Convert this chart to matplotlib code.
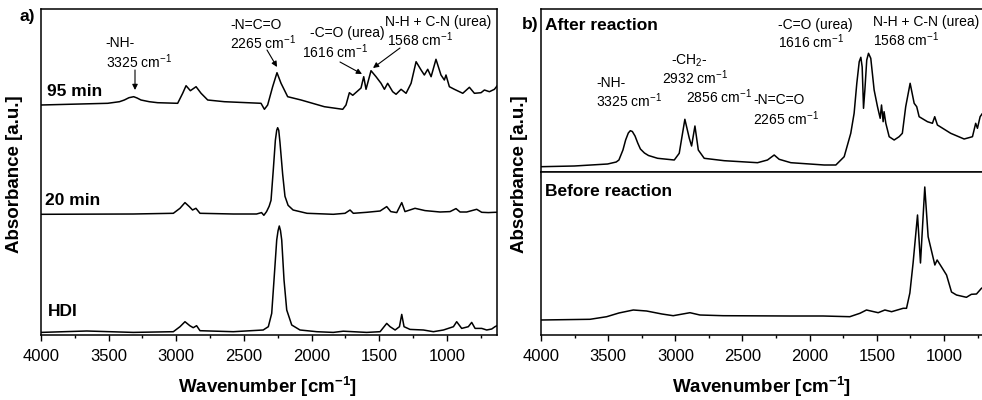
import matplotlib
matplotlib.use('Agg')
import matplotlib.pyplot as plt
from matplotlib.ticker import MultipleLocator

plt.rcParams['font.family'] = ['Liberation Sans', 'DejaVu Sans']
plt.rcParams['mathtext.fontset'] = 'custom'
plt.rcParams['mathtext.rm'] = 'Liberation Sans'
plt.rcParams['mathtext.bf'] = 'Liberation Sans:bold'
plt.rcParams['mathtext.default'] = 'rm'

# ---- panel a) spectra (values relative to each baseline) ----
hdi_wn = [4000, 3662, 3318, 3022, 2973, 2936, 2900, 2875, 2850, 2825, 2579, 2358,
          2320, 2295, 2278, 2258, 2248, 2239, 2230, 2221, 2204, 2184, 2147, 2086,
          1962, 1840, 1766, 1593, 1494, 1445, 1420, 1383, 1351, 1334, 1317, 1273,
          1174, 1100, 1026, 952, 928, 891, 842, 817, 792, 743, 706, 669, 645, 630]
hdi_abs = [-0.7, 0.7, -0.7, 0, 5, 10, 6, 4, 6, 1, 0, 1.7,
           5, 18.3, 51.7, 91.7, 101, 105.7, 101, 91.7, 51.7, 21.7, 6.7, 1.7,
           0, -0.7, 0.5, -0.7, 0, 8.3, 5, 1.7, 5, 17.3, 5, 2.3,
           1.7, 0, 1.7, 5, 10, 3.3, 5, 9.3, 3.3, 3.3, 1.7, 2.7, 5, 6]

m20_wn = [4000, 3318, 3022, 2973, 2936, 2904, 2880, 2855, 2825, 2579, 2407, 2370,
          2353, 2333, 2314, 2300, 2283, 2268, 2258, 2251, 2243, 2234, 2214, 2197,
          2174, 2137, 2034, 1840, 1753, 1716, 1692, 1593, 1494, 1445, 1415, 1371,
          1334, 1310, 1236, 1162, 1051, 977, 933, 903, 854, 780, 743, 694, 645, 630]
m20_abs = [0, 0.3, 1, 6, 11.7, 7.7, 4.3, 6, 1, 0.3, 0.3, 1.7,
           -1, 2.7, 8, 14, 45, 74, 84, 86.6, 84, 72, 40, 18,
           9, 4.3, 1, 0, 1, 4.3, 1, 2, 3.3, 7.7, 2.7, 1.7,
           11.7, 2.7, 6, 3.7, 2.3, 2.7, 5.7, 2.3, 2.3, 5, 2, 1.7, 2, 2]

m95_wn = [4000, 3507, 3420, 3384, 3350, 3315, 3290, 3261, 3200, 3138, 2990, 2953,
          2928, 2896, 2854, 2817, 2768, 2645, 2374, 2349, 2325, 2288, 2256, 2226,
          2177, 2078, 1906, 1770, 1746, 1721, 1696, 1660, 1635, 1615, 1598, 1561,
          1524, 1487, 1462, 1438, 1401, 1376, 1339, 1302, 1265, 1228, 1191, 1167,
          1142, 1117, 1081, 1044, 1019, 1007, 982, 945, 883, 834, 797, 748,
          723, 686, 649, 630]
m95_abs = [0, 1.7, 3.3, 5, 7.3, 8.3, 7, 5, 3.3, 2.3, 1.7, 11.7,
           19.3, 14.3, 18.3, 11.7, 5, 3.3, 1.7, -4.3, 0, 18.3, 32.3, 21.7,
           8.3, 5, -1.7, -4.3, 0, 12.3, 9.7, 14, 17, 28.3, 15.7, 34.3,
           28.3, 21.7, 15.7, 21.7, 13.3, 10.7, 15.7, 11.7, 21.7, 43.3, 35, 30,
           35.7, 28.3, 45.7, 30, 25, 30, 18.3, 15.7, 11.7, 17.7, 11.7, 12.3,
           15, 13.3, 15.7, 19]

# ---- panel b) spectra ----
after_wn = [4000, 3752, 3504, 3440, 3420, 3390, 3370, 3350, 3335, 3320, 3300, 3280,
            3260, 3230, 3200, 3132, 3008, 2971, 2929, 2896, 2879, 2854, 2829, 2785,
            2636, 2388, 2314, 2264, 2227, 2140, 1892, 1805, 1743, 1694, 1669, 1649,
            1631, 1619, 1609, 1599, 1589, 1575, 1562, 1545, 1520, 1495, 1475, 1465,
            1453, 1446, 1433, 1408, 1371, 1334, 1310, 1285, 1252, 1222, 1203, 1185,
            1123, 1086, 1069, 1049, 950, 850, 788, 764, 751, 731, 717]
after_abs = [5.3, 6, 8, 10, 12, 22, 32, 39, 41.3, 40.5, 36, 29,
             23, 19, 16.5, 13.7, 12, 18.7, 52.7, 33.7, 26, 46, 22, 13.7,
             11.3, 9.3, 12, 17, 12.7, 9.3, 7, 7, 15.3, 38.7, 58.7, 88.7,
             110.3, 114.7, 105, 63.7, 82, 112, 118.7, 113.7, 82, 65.3, 53.7, 67,
             50.3, 60.3, 48.7, 35.3, 32, 35.3, 38.7, 65.3, 88.7, 68.7, 65.3, 55.3,
             50.3, 48.7, 55.3, 47, 38.7, 33, 35.3, 48.7, 43.7, 55.3, 58]

before_wn = [4000, 3635, 3511, 3420, 3313, 3214, 3100, 3016, 2891, 2817, 2644, 2147,
             1900, 1701, 1626, 1577, 1490, 1440, 1390, 1304, 1279, 1254, 1230, 1197,
             1175, 1143, 1118, 1068, 1051, 1018, 981, 944, 907, 833, 796, 758,
             721, 717]
before_abs = [15, 15.7, 18.3, 22, 25, 24, 21, 19.3, 22.3, 20, 19.3, 19,
              19, 18.3, 21.7, 25, 22.3, 25, 23.3, 26.7, 26.7, 42, 72, 120,
              72, 148, 98.3, 70, 75, 68, 60, 43, 40, 37.7, 40.7, 41,
              46.7, 47]

labels_a = ['95 min', '20 min', 'HDI']
offsets_a = [230, 120.7, 3.3]

W, H = 982, 400


def fx(x):
    return x / W


def fy(y):
    return 1 - y / H


def style_x(ax, labels=True):
    ax.xaxis.set_major_locator(MultipleLocator(500))
    ax.xaxis.set_minor_locator(MultipleLocator(250))
    ax.tick_params(axis='x', which='major', direction='out', length=4, width=1,
                   labelsize=12, labelbottom=labels, pad=6)
    ax.tick_params(axis='x', which='minor', direction='out', length=2.5, width=1)
    ax.set_yticks([])
    for s in ax.spines.values():
        s.set_linewidth(1.1)


fig = plt.figure(figsize=(9.82, 4.0), dpi=100)

# panel a
ax_a = fig.add_axes([fx(41), fy(335), fx(497) - fx(41), fy(9) - fy(335)])
for wn, ab, off in zip([m95_wn, m20_wn, hdi_wn], [m95_abs, m20_abs, hdi_abs], offsets_a):
    ax_a.plot(wn, [v + off for v in ab], color='k', lw=1.1)
ax_a.set_xlim(4000, 630)
ax_a.set_ylim(0, 326)
style_x(ax_a)

# panel b
ax_bt = fig.add_axes([fx(541), fy(172), fx(982) - fx(541), fy(9) - fy(172)])
ax_bb = fig.add_axes([fx(541), fy(335), fx(982) - fx(541), fy(172) - fy(335)])
ax_bt.plot(after_wn, after_abs, color='k', lw=1.1)
ax_bb.plot(before_wn, before_abs, color='k', lw=1.1)
for ax in (ax_bt, ax_bb):
    ax.set_xlim(4000, 717)
    ax.set_ylim(0, 163)
    ax.spines['right'].set_visible(False)
style_x(ax_bt, labels=False)
style_x(ax_bb)

# panel letters and curve labels
bold = dict(fontweight='bold', fontsize=12.5, va='center')
fig.text(fx(20), fy(16), 'a)', **bold)
fig.text(fx(522), fy(25), 'b)', **bold)
fig.text(fx(47), fy(92), labels_a[0], **bold)
fig.text(fx(45), fy(201), labels_a[1], **bold)
fig.text(fx(48), fy(311), labels_a[2], **bold)
fig.text(fx(545), fy(25), 'After reaction', **bold)
fig.text(fx(545), fy(192), 'Before reaction', **bold)

# axis titles
fig.text(fx(268), fy(387), r'Wavenumber [cm$^{\mathbf{-1}}$]', ha='center', va='center',
         fontweight='bold', fontsize=13.5)
fig.text(fx(762), fy(387), r'Wavenumber [cm$^{\mathbf{-1}}$]', ha='center', va='center',
         fontweight='bold', fontsize=13.5)
fig.text(fx(15), fy(174), 'Absorbance [a.u.]', ha='center', va='center', rotation=90,
         fontweight='bold', fontsize=13.5)
fig.text(fx(520), fy(174), 'Absorbance [a.u.]', ha='center', va='center', rotation=90,
         fontweight='bold', fontsize=13.5)

# peak annotations: (text, left x, center y) in pixels
notes = [
    ('-NH-', 105, 43), ('3325 cm$^{-1}$', 106, 62),
    ('-N=C=O', 230, 25), ('2265 cm$^{-1}$', 230, 43),
    ('-C=O (urea)', 310, 33), ('1616 cm$^{-1}$', 302, 52),
    ('N-H + C-N (urea)', 385, 22), ('1568 cm$^{-1}$', 387, 40),
    ('-NH-', 596, 83), ('3325 cm$^{-1}$', 596, 101),
    ('-CH$_2$-', 671, 61), ('2932 cm$^{-1}$', 662, 78),
    ('2856 cm$^{-1}$', 686, 97),
    ('-N=C=O', 753, 100), ('2265 cm$^{-1}$', 753, 119),
    ('-C=O (urea)', 778, 25), ('1616 cm$^{-1}$', 778, 42),
    ('N-H + C-N (urea)', 873, 22), ('1568 cm$^{-1}$', 873, 40),
]
for s, x, y in notes:
    fig.text(fx(x), fy(y), s, ha='left', va='center', fontsize=10)

arrows = [
    ((135, 70), (135, 90)),
    ((267, 50), (277, 67)),
    ((340, 62), (362, 74)),
    ((400, 48), (373, 68)),
    ((623, 108), (629, 126)),
    ((679, 87), (683, 115)),
    ((700, 105), (696, 120)),
    ((774, 127), (774, 152)),
    ((827, 50), (855, 61)),
    ((887, 47), (875, 61)),
]
for (x0, y0), (x1, y1) in arrows:
    ax_a.annotate('', xy=(fx(x1), fy(y1)), xytext=(fx(x0), fy(y0)),
                  xycoords='figure fraction', textcoords='figure fraction',
                  arrowprops=dict(arrowstyle='-|>', color='k', lw=0.8,
                                  mutation_scale=8, shrinkA=0, shrinkB=0))

fig.savefig('out.png', dpi=100)
